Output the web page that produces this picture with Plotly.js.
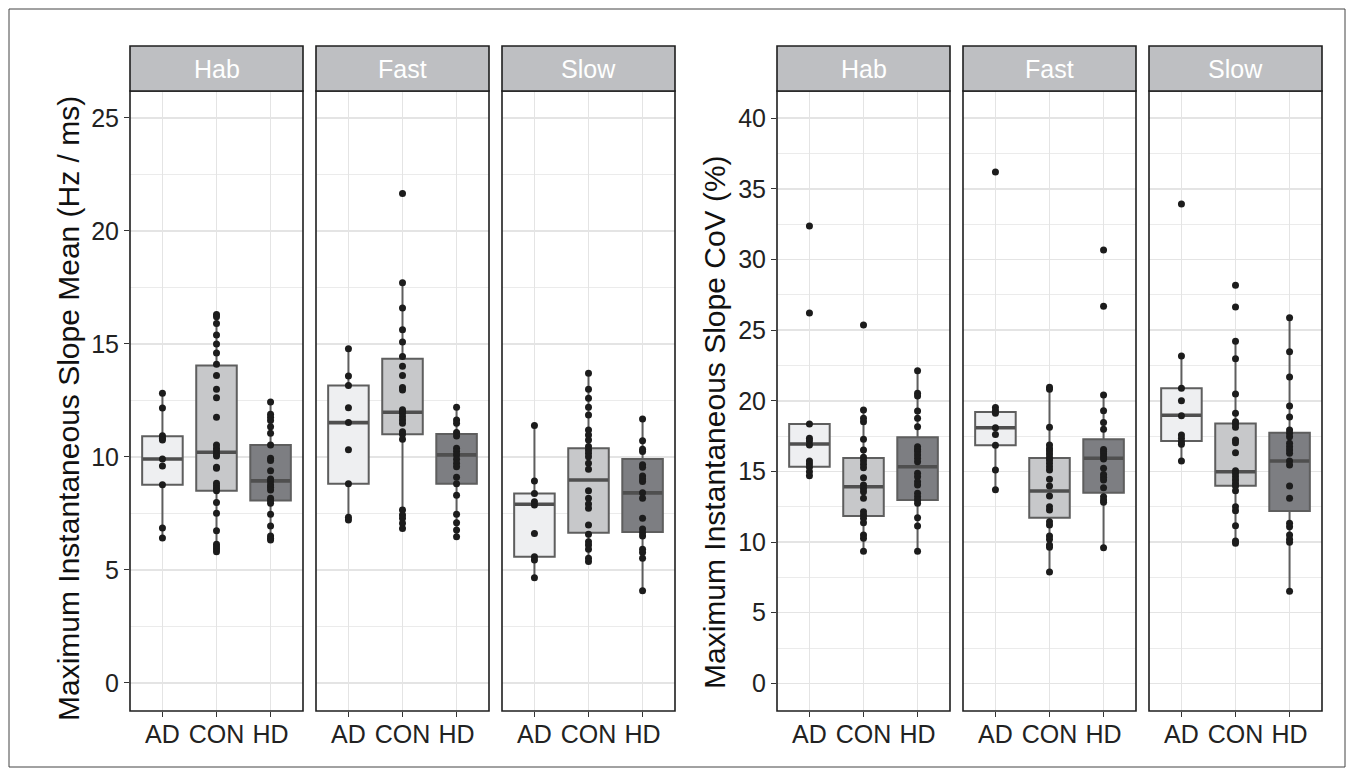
<!DOCTYPE html>
<html><head><meta charset="utf-8">
<script src="https://cdn.plot.ly/plotly-3.0.1.min.js"></script>
<style>html,body{margin:0;padding:0;background:#fff}#chart{width:1354px;height:776px}</style>
</head><body><div id="chart"></div>
<script>
// ---------- DATA ----------
const groups = ['AD', 'CON', 'HD'];
const facets = ['Hab', 'Fast', 'Slow'];
const titleMean = 'Maximum Instantaneous Slope Mean (Hz / ms)';
const titleCov = 'Maximum Instantaneous Slope CoV (%)';

// Mean (Hz / ms) individual values
const habMeanAD = [12.82, 12.17, 10.94, 10.83, 10.75, 9.91, 9.60, 8.77, 6.86, 6.42];
const habMeanCON = [16.3, 16.2, 15.9, 15.4, 15.0, 14.6, 14.1, 13.6, 13.0, 12.62, 11.76, 10.53, 10.38, 10.28, 10.13, 10.04, 9.54, 9.50, 8.84, 8.72, 8.61, 8.50, 7.98, 7.51, 6.73, 6.14, 6.03, 5.93, 5.81];
const habMeanHD = [12.43, 11.89, 11.76, 11.61, 11.34, 11.05, 10.53, 9.94, 9.84, 9.39, 9.03, 8.91, 8.76, 8.66, 8.54, 8.17, 8.07, 7.95, 7.46, 6.95, 6.50, 6.40, 6.33];
const fastMeanAD = [14.79, 13.58, 13.16, 12.18, 11.52, 10.32, 8.81, 7.33, 7.21];
const fastMeanCON = [21.65, 17.71, 16.59, 15.63, 15.09, 14.44, 14.01, 13.60, 13.07, 12.96, 12.09, 12.0, 11.93, 11.78, 11.64, 11.49, 11.12, 11.00, 10.78, 7.65, 7.43, 7.29, 7.07, 6.84];
const fastMeanHD = [12.2, 11.64, 11.49, 11.08, 10.93, 10.38, 10.24, 10.09, 9.90, 9.72, 9.57, 9.10, 8.81, 8.31, 7.46, 7.09, 6.77, 6.47];
const slowMeanAD = [11.39, 8.94, 8.38, 8.02, 7.88, 6.61, 5.59, 5.44, 4.66];
const slowMeanCON = [13.7, 13.0, 12.6, 12.2, 11.86, 11.19, 10.97, 10.75, 10.46, 10.31, 10.16, 10.01, 9.72, 9.46, 8.50, 8.17, 7.92, 7.73, 6.99, 6.58, 6.25, 6.11, 5.92, 5.52, 5.37];
const slowMeanHD = [11.68, 10.72, 10.34, 10.24, 9.65, 9.54, 9.16, 9.03, 8.91, 8.42, 8.17, 7.29, 6.81, 6.65, 6.50, 5.92, 5.77, 5.52, 4.08];

// CoV (%) individual values
const habCovAD = [32.36, 26.21, 18.35, 17.34, 17.15, 16.87, 15.74, 15.52, 15.29, 14.98, 14.70];
const habCovCON = [25.36, 19.34, 18.76, 18.52, 17.27, 16.51, 16.0, 15.76, 15.50, 15.26, 14.56, 14.04, 13.80, 13.56, 13.10, 12.15, 11.91, 11.68, 11.37, 10.50, 10.27, 9.35];
const habCovHD = [22.13, 20.53, 20.34, 19.27, 18.76, 18.16, 16.75, 16.56, 16.40, 16.16, 15.93, 15.69, 14.87, 14.63, 14.27, 14.04, 13.45, 13.21, 12.98, 12.74, 11.72, 11.14, 9.35];
const fastCovAD = [36.18, 19.53, 19.30, 19.11, 18.09, 17.62, 16.85, 15.10, 13.71];
const fastCovCON = [20.95, 20.81, 18.12, 16.87, 16.63, 16.44, 16.23, 16.0, 15.81, 15.57, 15.33, 15.10, 14.44, 13.97, 13.26, 12.50, 12.27, 11.44, 11.21, 10.43, 10.20, 9.79, 9.63, 7.88];
const fastCovHD = [30.67, 26.68, 20.41, 19.30, 18.47, 17.99, 16.56, 16.40, 16.23, 16.04, 15.88, 15.22, 14.79, 14.58, 14.39, 13.85, 13.21, 12.98, 12.81, 9.60];
const slowCovAD = [33.92, 23.17, 20.88, 20.0, 18.94, 17.58, 17.34, 17.10, 16.92, 15.74];
const slowCovCON = [28.17, 26.63, 24.21, 22.98, 20.48, 19.11, 18.52, 18.35, 18.12, 17.22, 17.03, 16.33, 15.05, 14.86, 14.63, 14.39, 14.16, 13.97, 13.64, 12.50, 12.22, 11.16, 10.08, 9.91];
const slowCovHD = [25.88, 23.47, 21.68, 19.63, 18.85, 17.93, 17.70, 17.46, 16.99, 16.75, 16.51, 16.28, 15.74, 15.45, 13.97, 13.10, 11.33, 11.09, 10.50, 10.20, 9.98, 6.52];

// Box statistics [facet][group]
const meanLowerFence = [[6.42, 5.81, 6.33], [7.21, 6.84, 6.47], [4.66, 5.37, 4.08]];
const meanQ1 = [[8.77, 8.51, 8.07], [8.81, 11.0, 8.81], [5.58, 6.65, 6.68]];
const meanMedian = [[9.91, 10.21, 8.94], [11.52, 11.98, 10.09], [7.91, 8.98, 8.41]];
const meanQ3 = [[10.92, 14.05, 10.53], [13.16, 14.34, 11.02], [8.38, 10.38, 9.91]];
const meanUpperFence = [[12.82, 16.3, 12.43], [14.79, 17.71, 12.2], [11.39, 13.7, 11.68]];

const covLowerFence = [[14.70, 9.35, 9.35], [13.71, 7.88, 9.60], [15.74, 9.91, 6.52]];
const covQ1 = [[15.33, 11.84, 12.98], [16.85, 11.73, 13.49], [17.15, 13.99, 12.20]];
const covMedian = [[16.94, 13.92, 15.33], [18.09, 13.61, 15.93], [18.97, 14.98, 15.74]];
const covQ3 = [[18.35, 15.95, 17.41], [19.20, 15.95, 17.27], [20.88, 18.40, 17.74]];
const covUpperFence = [[18.35, 19.34, 22.13], [19.53, 20.95, 20.41], [23.17, 24.21, 25.88]];

// ---------- STYLE / LAYOUT ----------
const W = 1354, H = 776;
const px = v => v / W;
const py = v => (H - v) / H;
const panelLeft = [130, 316, 502, 777, 963, 1149];
const panelW = 173;
const plotTop = 91, plotBottom = 711, stripTop = 46;
const fills = ['#eeeff1', '#c7c8ca', '#7d7e82'];
const boxLine = '#5e5e5e';
const medLine = '#4f4f4f';
const gridCol = '#e4e4e4';
const font = 'Liberation Sans, Arial, Helvetica, sans-serif';

const charts = [
  { lf: meanLowerFence, q1: meanQ1, med: meanMedian, q3: meanQ3, uf: meanUpperFence,
    pts: [[habMeanAD, habMeanCON, habMeanHD], [fastMeanAD, fastMeanCON, fastMeanHD], [slowMeanAD, slowMeanCON, slowMeanHD]],
    ya: 'y', range: [-1.239, 26.19], title: titleMean, titleX: 68, titleY: 409 },
  { lf: covLowerFence, q1: covQ1, med: covMedian, q3: covQ3, uf: covUpperFence,
    pts: [[habCovAD, habCovCON, habCovHD], [fastCovAD, fastCovCON, fastCovHD], [slowCovAD, slowCovCON, slowCovHD]],
    ya: 'y2', range: [-1.953, 41.92], title: titleCov, titleX: 714, titleY: 422 }
];

const traces = [];
const layout = {
  width: W, height: H,
  margin: { l: 0, r: 0, t: 0, b: 0 },
  paper_bgcolor: '#ffffff', plot_bgcolor: '#ffffff',
  font: { family: font, color: '#222' },
  showlegend: false, boxmode: 'overlay',
  shapes: [], annotations: []
};

charts.forEach((ch, c) => {
  for (let p = 0; p < 3; p++) {
    const idx = c * 3 + p;
    const axId = idx === 0 ? '' : String(idx + 1);
    const xa = 'x' + axId;
    const left = panelLeft[idx];
    for (let g = 0; g < 3; g++) {
      traces.push({
        type: 'box', x: [groups[g]],
        q1: [ch.q1[p][g]], median: [ch.med[p][g]], q3: [ch.q3[p][g]],
        lowerfence: [ch.lf[p][g]], upperfence: [ch.uf[p][g]],
        xaxis: xa, yaxis: ch.ya, fillcolor: fills[g],
        line: { color: boxLine, width: 2 }, width: 0.75, whiskerwidth: 0,
        boxpoints: false, hoverinfo: 'skip'
      });
      // thicker median bar (ggplot style)
      traces.push({
        type: 'box', x: [groups[g]],
        q1: [ch.med[p][g]], median: [ch.med[p][g]], q3: [ch.med[p][g]],
        lowerfence: [ch.med[p][g]], upperfence: [ch.med[p][g]],
        xaxis: xa, yaxis: ch.ya, fillcolor: 'rgba(0,0,0,0)',
        line: { color: medLine, width: 3.6 }, width: 0.73, whiskerwidth: 0,
        boxpoints: false, hoverinfo: 'skip'
      });
    }
    const xs = [], ys = [];
    for (let g = 0; g < 3; g++) {
      ch.pts[p][g].forEach(v => { xs.push(groups[g]); ys.push(v); });
    }
    traces.push({
      type: 'scatter', mode: 'markers', x: xs, y: ys, xaxis: xa, yaxis: ch.ya,
      marker: { size: 7, color: '#1c1c1c' }, hoverinfo: 'skip'
    });
    layout['xaxis' + axId] = {
      domain: [px(left), px(left + panelW)], anchor: ch.ya,
      type: 'category', categoryorder: 'array', categoryarray: groups,
      range: [-0.6, 2.6], showgrid: true, gridcolor: gridCol, gridwidth: 1.5,
      ticks: 'outside', ticklen: 5, tickcolor: '#333', tickwidth: 1,
      ticklabelstandoff: -4,
      tickfont: { size: 25, color: '#222', family: font },
      showline: false, zeroline: false, fixedrange: true
    };
    // panel border
    layout.shapes.push({ type: 'rect', xref: 'paper', yref: 'paper',
      x0: px(left), x1: px(left + panelW), y0: py(plotBottom), y1: py(plotTop),
      line: { color: '#1f1f1f', width: 1.6 }, fillcolor: 'rgba(0,0,0,0)', layer: 'above' });
    // strip
    layout.shapes.push({ type: 'rect', xref: 'paper', yref: 'paper',
      x0: px(left), x1: px(left + panelW), y0: py(plotTop), y1: py(stripTop),
      line: { color: '#1f1f1f', width: 1.6 }, fillcolor: '#bebfc2', layer: 'above' });
    layout.annotations.push({ xref: 'paper', yref: 'paper',
      x: px(left + panelW / 2), y: py((plotTop + stripTop) / 2),
      text: facets[p], showarrow: false, xanchor: 'center', yanchor: 'middle',
      font: { size: 25, color: '#ffffff', family: font } });
  }
  layout[c === 0 ? 'yaxis' : 'yaxis2'] = {
    domain: [py(plotBottom), py(plotTop)], anchor: c === 0 ? 'x' : 'x4',
    range: ch.range, tick0: 0, dtick: 5,
    showgrid: true, gridcolor: gridCol, gridwidth: 1.5,
    minor: { dtick: 2.5, tick0: 0, showgrid: true, gridcolor: '#ebebeb', gridwidth: 1, ticks: '' },
    ticks: 'outside', ticklen: 5, tickcolor: '#333', tickwidth: 1,
    tickfont: { size: 25, color: '#222', family: font },
    showline: false, zeroline: false, fixedrange: true
  };
  layout.annotations.push({ xref: 'paper', yref: 'paper',
    x: px(ch.titleX), y: py(ch.titleY),
    text: ch.title, showarrow: false, textangle: -90,
    xanchor: 'center', yanchor: 'middle',
    font: { size: 30, color: '#111', family: font } });
});

// outer frame
layout.shapes.push({ type: 'rect', xref: 'paper', yref: 'paper',
  x0: px(9), x1: px(1345), y0: py(767), y1: py(9),
  line: { color: '#444', width: 1 }, fillcolor: 'rgba(0,0,0,0)', layer: 'above' });

Plotly.newPlot('chart', traces, layout, { displayModeBar: false, staticPlot: true });
</script>
</body></html>
